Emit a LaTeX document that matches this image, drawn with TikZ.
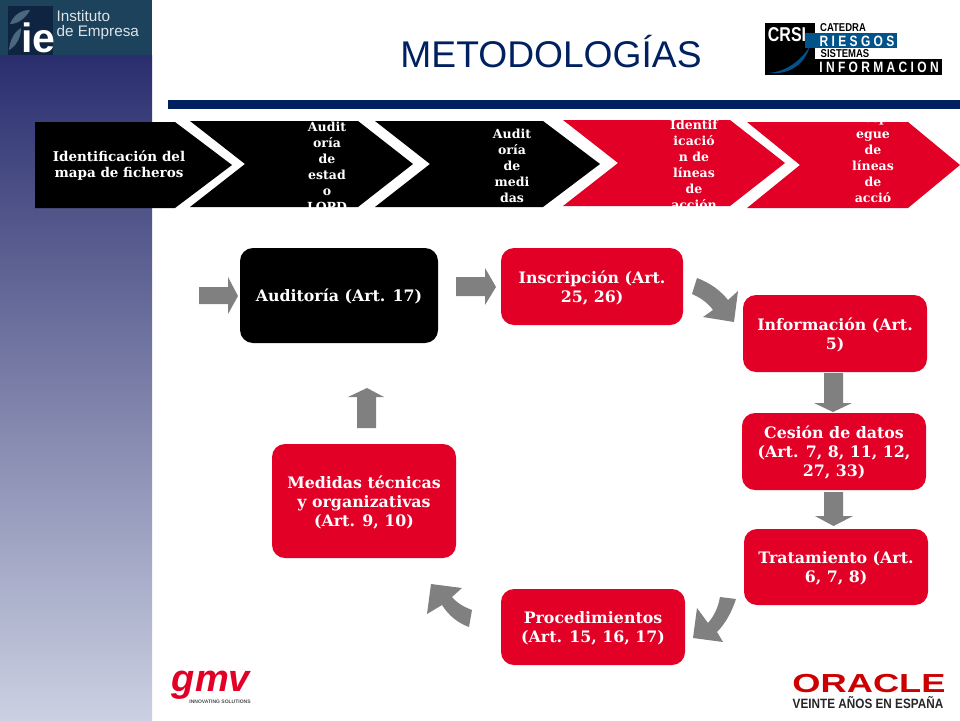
\documentclass[tikz,border=0pt]{standalone}
\usepackage{fontspec}
\setmainfont{DejaVu Serif}
\newfontfamily\arialfont{Liberation Sans}
\definecolor{ieteal}{RGB}{28,66,92}
\definecolor{iedark}{RGB}{14,36,64}
\definecolor{panelnavy}{RGB}{42,46,110}
\definecolor{panellight}{RGB}{203,208,226}
\definecolor{titleblue}{RGB}{0,32,96}
\definecolor{redbox}{RGB}{226,0,38}
\definecolor{arrowgray}{RGB}{128,128,128}
\definecolor{crsiblue}{RGB}{0,84,138}
\tikzset{
  stage/.style={fill=black},
  stagered/.style={fill=redbox},
  stagetext/.style={text=white,font=\fontsize{12.5}{16}\selectfont\bfseries,align=center},
  stepbox/.style={draw=none,fill=redbox,rounded corners=13pt,text=white,align=center,
    inner sep=3pt,text depth=0pt,font=\fontsize{15.8}{19}\selectfont\bfseries},
  blockarrow/.style={fill=arrowgray},
}
\begin{document}
\begin{tikzpicture}[x=1pt,y=-1pt]
  \useasboundingbox (0,0) rectangle (960,720);

  % left panel and rule
  \shade[top color=panelnavy,bottom color=panellight] (0,55) rectangle (152,720);
  \fill[ieteal] (0,0) rectangle (152,55);
  \fill[titleblue] (168,100) rectangle (960,109);

  % ie logo
  \fill[iedark] (8,6) rectangle (53,55);
  \fill[ieteal!80!white] (10,24) .. controls (14,14) and (22,10) .. (30,10) .. controls (26,18) and (18,24) .. (10,24) -- cycle;
  \fill[ieteal!80!white] (9,50) .. controls (10,40) and (14,32) .. (21,28) .. controls (21,38) and (16,46) .. (9,50) -- cycle;
  \node[text=white,font=\fontsize{41}{41}\selectfont\arialfont\bfseries] (ielogo) at (38.5,38) {ie};
  \node[text=white!85!ieteal,anchor=west,align=left,font=\fontsize{15.3}{15}\selectfont\arialfont] (ietext) at (53,25) {Instituto\\de Empresa};

  \node[text=titleblue,font=\fontsize{37.2}{37}\selectfont\arialfont] (title) at (551,52) {METODOLOGÍAS};

  % crsi logo
  \fill[black] (765,23) rectangle (815,75);
  \fill[black] (815,59) rectangle (942,75);
  \fill[crsiblue] (805,33) rectangle (897,48);
  \fill[crsiblue] (768,73) .. controls (785,72) and (800,62) .. (810,46) .. controls (804,66) and (788,75) .. (768,73) -- cycle;
  \node[text=white,yscale=1.25,font=\fontsize{16}{16}\selectfont\arialfont\bfseries] (crsi) at (787,35) {CRSI};
  \node[yscale=1.2,font=\fontsize{9.5}{10}\selectfont\arialfont\bfseries] (catedra) at (843,28) {CATEDRA};
  \node[text=white,yscale=1.25,font=\fontsize{12}{12}\selectfont\arialfont\bfseries] (riesgos) at (857,41) {R I E S G O S};
  \node[yscale=1.2,font=\fontsize{9.5}{10}\selectfont\arialfont\bfseries] (sistemas) at (845,54) {SISTEMAS};
  \node[text=white,yscale=1.25,font=\fontsize{12}{12}\selectfont\arialfont\bfseries] (informacion) at (879,67) {I N F O R M A C I O N};

  % top chevrons
  \fill[stage] (35,122) -- (175,122) -- (232,165) -- (175,208) -- (35,208) -- cycle;
  \fill[stage] (190,121) -- (358,121) -- (413,164) -- (358,207) -- (190,207) -- (245,164) -- cycle;
  \fill[stage] (375,121) -- (543,121) -- (600,164) -- (543,207) -- (375,207) -- (430,164) -- cycle;
  \fill[stagered] (563,120) -- (730,120) -- (785,163) -- (730,206) -- (563,206) -- (618,163) -- cycle;
  \fill[stagered] (747,122) -- (908,122) -- (960,165) -- (908,208) -- (747,208) -- (800,165) -- cycle;

  \begin{scope}
    \clip (0,120) rectangle (960,207);
    \node[stagetext,font=\fontsize{13.5}{16}\selectfont\bfseries] (s1) at (119,166) {Identificación del\\mapa de ficheros};
    \node[stagetext] (s2) at (327,166.5) {Audit\\oría\\de\\estad\\o\\LOPD};
    \node[stagetext] (s3) at (512,165.5) {Audit\\oría\\de\\medi\\das};
    \node[stagetext] (s4) at (694,164.5) {Identif\\icació\\n de\\líneas\\de\\acción};
    \node[stagetext] (s5) at (873,165.5) {Despl\\egue\\de\\líneas\\de\\acció\\n};
  \end{scope}

  % process boxes
  \node[stepbox,fill=black,minimum width=198pt,minimum height=95pt] (auditoria) at (339,295.5) {Auditoría (Art. 17)};
  \node[stepbox,minimum width=182pt,minimum height=77pt] (inscripcion) at (592,286.5) {Inscripción (Art.\\25, 26)};
  \node[stepbox,minimum width=184pt,minimum height=77pt] (informacionbox) at (835,333.5) {Información (Art.\\5)};
  \node[stepbox,minimum width=184pt,minimum height=77pt] (cesion) at (834,451.5) {Cesión de datos\\(Art. 7, 8, 11, 12,\\27, 33)};
  \node[stepbox,minimum width=184pt,minimum height=76pt] (tratamiento) at (836,567) {Tratamiento (Art.\\6, 7, 8)};
  \node[stepbox,minimum width=184pt,minimum height=76pt] (procedimientos) at (593,627) {Procedimientos\\(Art. 15, 16, 17)};
  \node[stepbox,minimum width=184pt,minimum height=114pt] (medidas) at (364,501) {Medidas técnicas\\y organizativas\\(Art. 9, 10)};

  % block arrows
  \fill[blockarrow] (199,287) -- (228,287) -- (228,277) -- (238,296) -- (228,314) -- (228,304) -- (199,304) -- cycle;
  \fill[blockarrow] (456,277) -- (485,277) -- (485,268) -- (496,287) -- (485,305) -- (485,296) -- (456,296) -- cycle;
  \fill[blockarrow] (824,373) -- (843,373) -- (843,403) -- (852,403) -- (833,412) -- (814,403) -- (824,403) -- cycle;
  \fill[blockarrow] (824,492) -- (843,492) -- (843,516) -- (853,516) -- (833.5,526) -- (815,516) -- (824,516) -- cycle;
  \fill[blockarrow] (357,428) -- (376,428) -- (376,397) -- (384,397) -- (367,388) -- (348,397) -- (357,397) -- cycle;
  \fill[blockarrow] (697,278) .. controls (710,283) and (720,290) .. (728,300) -- (738,291) -- (734,322) -- (703,317) -- (713,310) .. controls (708,303) and (701,298) .. (692,294) -- cycle;
  \fill[blockarrow] (720,597) .. controls (718,608) and (714,616) .. (708,623) -- (697,608) -- (693,638) -- (723,642) -- (717,632) .. controls (726,623) and (732,611) .. (736,599) -- cycle;
  \fill[blockarrow] (431,584) -- (462,588) -- (452,597) .. controls (457,603) and (464,607) .. (472,610) -- (469,627) .. controls (458,623) and (449,616) .. (442,605) -- (427,614) -- cycle;

  % bottom logos
  \node[text=redbox,font=\fontsize{38}{38}\selectfont\arialfont\bfseries\itshape] (gmv) at (211,685) {gmv};
  \node[text=black!70,font=\fontsize{5}{6}\selectfont\arialfont\bfseries] (gmvtext) at (220,702) {INNOVATING SOLUTIONS};
  \node[text=red!80!black,xscale=1.25,yscale=.9,font=\fontsize{29}{29}\selectfont\arialfont\bfseries] (oracle) at (869,684) {ORACLE};
  \node[text=black!85,xscale=.87,font=\fontsize{13.5}{14}\selectfont\arialfont\bfseries] (veinte) at (868,703) {VEINTE AÑOS EN ESPAÑA};
\end{tikzpicture}
\end{document}
